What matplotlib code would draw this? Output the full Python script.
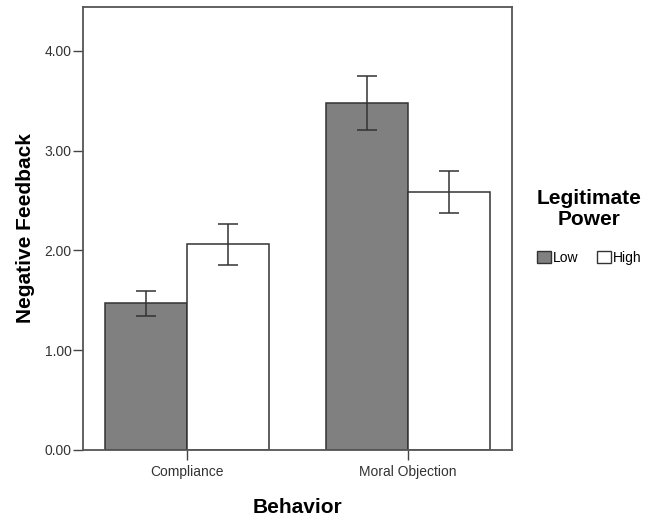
import numpy as np
import matplotlib
matplotlib.use("Agg")
import matplotlib.pyplot as plt
from matplotlib.patches import Patch

categories = ["Compliance", "Moral Objection"]
groups = ["Low", "High"]
means_low = [1.47, 3.48]
means_high = [2.06, 2.59]
err_low_lo = [1.34, 3.21]
err_low_hi = [1.59, 3.75]
err_high_lo = [1.85, 2.38]
err_high_hi = [2.27, 2.80]
yticks = [0.0, 1.0, 2.0, 3.0, 4.0]

plt.rcParams["font.family"] = ["Liberation Sans", "DejaVu Sans"]

fig = plt.figure(figsize=(6.57, 5.18), dpi=100)
ax = fig.add_axes([0.1263, 0.1313, 0.653, 0.8552])

x = np.arange(len(categories))
w = 0.371
edge = "#333333"
colors = ["#808080", "#ffffff"]

for i, (means, lo, hi) in enumerate([(means_low, err_low_lo, err_low_hi),
                                      (means_high, err_high_lo, err_high_hi)]):
    pos = x + (i - 0.5) * w
    ax.bar(pos, means, width=w, color=colors[i], edgecolor=edge, linewidth=1.1, zorder=2)
    means = np.array(means)
    yerr = [means - np.array(lo), np.array(hi) - means]
    ax.errorbar(pos, means, yerr=yerr, fmt="none", ecolor="#333333",
                elinewidth=1.1, capsize=7.5, capthick=1.1, zorder=3)

ax.set_xlim(-0.471, 1.471)
ax.set_ylim(0, 4.44)
ax.set_yticks(yticks)
ax.set_yticklabels([f"{v:.2f}" for v in yticks])
ax.set_xticks(x)
ax.set_xticklabels(categories)
ax.tick_params(axis="both", colors="#444444", labelcolor="#333333",
               labelsize=10, length=7, width=1.0)
ax.tick_params(axis="y", pad=1)
for s in ax.spines.values():
    s.set_color("#555555")
    s.set_linewidth(1.3)

ax.set_ylabel("Negative Feedback", fontsize=15, fontweight="bold", labelpad=7)
ax.set_xlabel("Behavior", fontsize=15, fontweight="bold", labelpad=14)

handles = [Patch(facecolor=colors[0], edgecolor=edge, label=groups[0]),
           Patch(facecolor=colors[1], edgecolor=edge, label=groups[1])]
leg = fig.legend(handles=handles, title="Legitimate\nPower", loc="center",
                 bbox_to_anchor=(0.897, 0.562), ncol=2, frameon=False,
                 fontsize=10, handlelength=1.0, handleheight=1.0, handletextpad=0.1,
                 columnspacing=1.4, labelspacing=1.6,
                 title_fontproperties={"weight": "bold", "size": 15})
leg.get_title().set_multialignment("center")
leg.get_title().set_linespacing(1.1)

fig.savefig("out.png", dpi=100)
